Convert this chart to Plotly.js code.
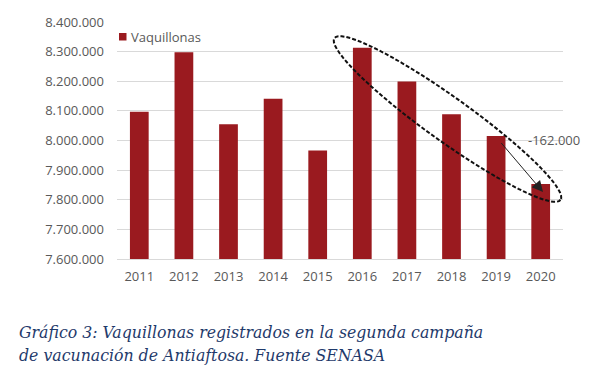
<!DOCTYPE html>
<html>
<head>
<meta charset="utf-8">
<script src="https://cdn.plot.ly/plotly-3.0.1.min.js"></script>
<style>html,body{margin:0;padding:0;background:#fff;}#chart{width:602px;height:389px;}</style>
</head>
<body>
<div id="chart"></div>
<script>
// Data
const years = [2011, 2012, 2013, 2014, 2015, 2016, 2017, 2018, 2019, 2020];
const vaquillonas = [8097000, 8298000, 8055000, 8141000, 7966000, 8313000, 8199000, 8089000, 8015000, 7853000];
const yTickVals = [7600000, 7700000, 7800000, 7900000, 8000000, 8100000, 8200000, 8300000, 8400000];
const yTickText = ["7.600.000", "7.700.000", "7.800.000", "7.900.000", "8.000.000", "8.100.000", "8.200.000", "8.300.000", "8.400.000"];
const seriesName = "Vaquillonas";
const diffLabel = "-162.000";
const captionText = "Gráfico 3: Vaquillonas registrados en la segunda campaña<br>de vacunación de Antiaftosa. Fuente SENASA";

const W = 602, H = 389;
const M = {l: 117, r: 39, t: 22, b: 130};
const xRange = [2010.5, 2020.5];
const yRange = [7600000, 8400000];
const plotW = W - M.l - M.r, plotH = H - M.t - M.b;
const barColor = "#9a1a1f";

// pixel -> data / paper helpers (for decorations only)
function px2x(px) { return xRange[0] + (px - M.l) / plotW * (xRange[1] - xRange[0]); }
function py2y(py) { return yRange[1] - (py - M.t) / plotH * (yRange[1] - yRange[0]); }
function px2p(px) { return (px - M.l) / plotW; }
function py2p(py) { return (H - M.b - py) / plotH; }

// ellipse highlighting 2016-2020 (defined in pixel space, converted to data)
const ell = {cx: 447.5, cy: 119, a: 139, b: 22, ang: Math.atan2(161, 225)};
let path = "";
for (let i = 0; i <= 72; i++) {
  const t = i / 72 * 2 * Math.PI;
  const ex = ell.a * Math.cos(t), ey = ell.b * Math.sin(t);
  const px = ell.cx + ex * Math.cos(ell.ang) - ey * Math.sin(ell.ang);
  const py = ell.cy + ex * Math.sin(ell.ang) + ey * Math.cos(ell.ang);
  path += (i === 0 ? "M" : "L") + px2x(px) + "," + py2y(py);
}
path += "Z";

const tickFont = {family: "'Open Sans', sans-serif", size: 13, color: "#595959"};

const data = [{
  type: "bar",
  x: years,
  y: vaquillonas,
  name: seriesName,
  marker: {color: barColor},
  width: 0.42,
  showlegend: false,
  hoverinfo: "x+y"
}];

const layout = {
  width: W, height: H,
  margin: M,
  paper_bgcolor: "#ffffff",
  plot_bgcolor: "#ffffff",
  showlegend: false,
  xaxis: {
    range: xRange, tickvals: years, ticktext: years.map(String),
    showgrid: false, zeroline: false, showline: true, linecolor: "#d9d9d9", linewidth: 1,
    ticks: "", tickfont: tickFont, ticklabelstandoff: 5, fixedrange: true
  },
  yaxis: {
    range: yRange, tickvals: yTickVals, ticktext: yTickText,
    showgrid: true, gridcolor: "#d9d9d9", gridwidth: 1, zeroline: false, showline: false,
    ticks: "", tickfont: tickFont, ticklabelstandoff: 12, fixedrange: true
  },
  shapes: [
    {
      type: "path", xref: "x", yref: "y", path: path,
      line: {color: "#111111", width: 2, dash: "4px,2px"}, fillcolor: "rgba(0,0,0,0)"
    },
    {
      type: "rect", xref: "paper", yref: "paper",
      x0: px2p(119), x1: px2p(126.5), y0: py2p(40.5), y1: py2p(33),
      line: {width: 0}, fillcolor: barColor
    }
  ],
  annotations: [
    {
      xref: "paper", yref: "paper", x: px2p(129), y: py2p(37),
      xanchor: "left", yanchor: "middle", showarrow: false, text: seriesName, font: tickFont
    },
    {
      xref: "x", yref: "y", x: px2x(543), y: py2y(192),
      ax: px2x(500), ay: py2y(141.5), axref: "x", ayref: "y",
      showarrow: true, arrowhead: 2, arrowsize: 2.2, arrowwidth: 1, arrowcolor: "#222222", text: ""
    },
    {
      xref: "x", yref: "y", x: px2x(553.5), y: py2y(140),
      text: diffLabel, showarrow: false, xanchor: "center", yanchor: "middle", font: tickFont
    },
    {
      xref: "paper", yref: "paper", x: px2p(17), y: py2p(320),
      xanchor: "left", yanchor: "top", align: "left", showarrow: false,
      text: captionText,
      font: {family: "'DejaVu Serif Condensed', 'DejaVu Serif', serif", size: 17.5, color: "#1f3a6b", style: "italic"}
    }
  ]
};

Plotly.newPlot("chart", data, layout, {displayModeBar: false, staticPlot: true});
</script>
</body>
</html>
